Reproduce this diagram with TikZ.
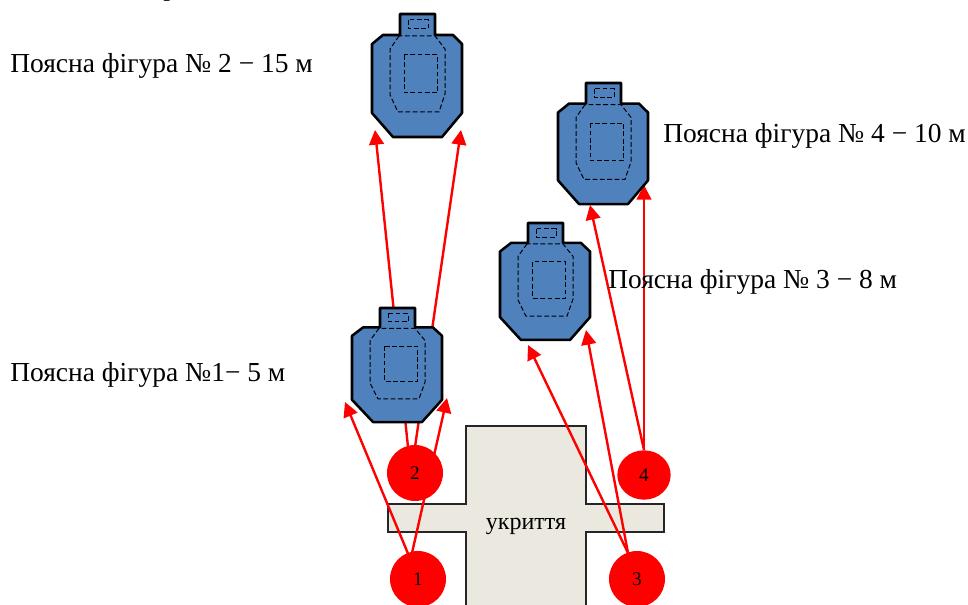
\documentclass[tikz,border=0pt]{standalone}
\usepackage{fontspec}
\setmainfont{Liberation Serif}
\usetikzlibrary{arrows.meta,shapes.geometric}
\definecolor{tblue}{HTML}{4F81BD}
\definecolor{shelter}{HTML}{EBE9DF}
\tikzset{
  x=0.75pt,y=-0.75pt,
  body/.style={draw=black,line width=1.9pt,fill=tblue,line join=round},
  innerline/.style={draw=black,line width=0.75pt,dash pattern=on 3.6pt off 1.9pt},
  shot/.style={draw=red,line width=1.8pt,-{Triangle[length=11pt,width=11pt]}},
  redmark/.style={fill=red,inner sep=0pt,text=black,font=\fontsize{14.5}{14.5}\selectfont},
  lbl/.style={anchor=base west,inner sep=0pt,font=\fontsize{20.6}{20.6}\selectfont},
}
\newcommand{\targetfig}[3]{%
\begin{scope}[shift={(#1,#2)},yscale=#3]
 \draw[body] (0,0)--(35,0)--(35,21)--(53,21)--(62,30)--(62,99)--(42,123)--(-7,123)--(-28,99)--(-28,30)--(-17,21)--(0,21)--cycle;
 \draw[innerline] (8.3,6) rectangle (28,15);
 \draw[innerline] (-1,22)--(-10,35)--(-10,81)--(-2,98)--(39,98)--(45,80)--(45,35)--(35,22)--cycle;
 \draw[innerline] (4.3,41) rectangle (37.7,79);
\end{scope}}
\begin{document}
\begin{tikzpicture}
\useasboundingbox (0,0) rectangle (968,605);
% shelter
\begin{scope}
\clip (0,0) rectangle (968,605);
\draw[draw=black!85,line width=1.3pt,fill=shelter] (466,426)--(586,426)--(586,504)--(664,504)--(664,532)--(586,532)--(586,615)--(466,615)--(466,532)--(388,532)--(388,504)--(466,504)--cycle;
\end{scope}
\node[anchor=base,inner sep=0pt,font=\fontsize{18}{18}\selectfont] (shname) at (526,530) {укриття};
% anchor points
\coordinate (c1) at (418,579);
\coordinate (c2) at (415,473);
\coordinate (c3) at (637,579);
\coordinate (c4) at (644,475);
\coordinate (t2l) at (375,130);
\coordinate (t2r) at (461,130);
\coordinate (t1l) at (345,402);
\coordinate (t1r) at (447,398);
\coordinate (t3l) at (528,345);
\coordinate (t3r) at (586,330);
\coordinate (t4l) at (590,205);
\coordinate (t4r) at (644,185);
\coordinate (s1a) at (409,556);
\coordinate (s1b) at (412,553);
\coordinate (s2a) at (408,447);
\coordinate (s2b) at (415,447);
\coordinate (s3) at (628,553);
\coordinate (s4) at (644,450);
\draw[shot] (s1a)--(t1l);
\draw[shot] (s1b)--(t1r);
\draw[shot] (s2a)--(t2l);
\draw[shot] (s2b)--(t2r);
\draw[shot] (s3)--(t3l);
\draw[shot] (s3)--(t3r);
\draw[shot] (s4)--(t4l);
\draw[shot] (s4)--(t4r);
\targetfig{400}{14}{1}
\targetfig{380}{308}{0.927}
\targetfig{528}{223}{0.951}
\targetfig{586}{83}{0.984}
\node[redmark,circle,minimum size=42pt] (n1) at (c1) {1};
\node[redmark,circle,minimum size=42pt] (n2) at (c2) {2};
\node[redmark,circle,minimum size=42pt] (n3) at (c3) {3};
\node[redmark,ellipse,minimum width=40pt,minimum height=37pt] (n4) at (c4) {4};
\node[lbl] (l0) at (163,-4) {р};
\node[lbl] (l2) at (10,72.5) {Поясна фігура № 2 − 15 м};
\node[lbl] (l1) at (10,382) {Поясна фігура №1− 5 м};
\node[lbl] (l3) at (608,289) {Поясна фігура № 3 − 8 м};
\node[lbl] (l4) at (663,143) {Поясна фігура № 4 − 10 м};
\end{tikzpicture}
\end{document}
